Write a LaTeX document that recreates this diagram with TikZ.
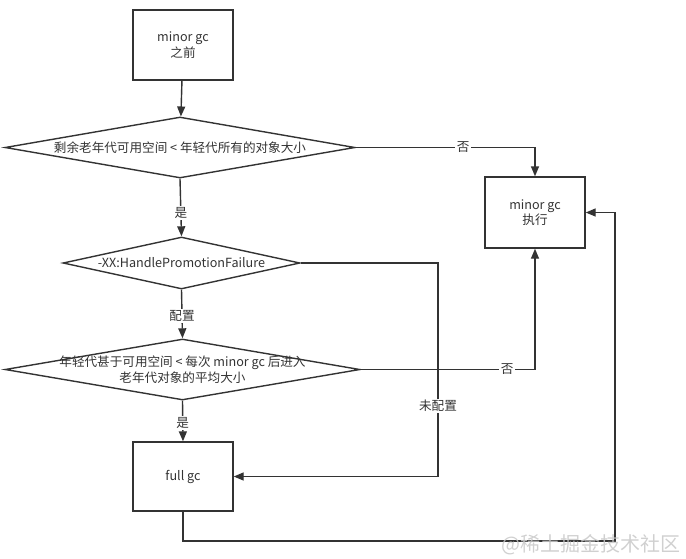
\documentclass[tikz,border=0pt]{standalone}
\usepackage{fontspec}
\setmainfont{Noto Sans CJK SC}
\usetikzlibrary{shapes.geometric, arrows.meta}
\definecolor{linegray}{HTML}{333333}
\definecolor{markgray}{HTML}{C8C8C8}

\begin{document}
\begin{tikzpicture}[x=1pt, y=-1pt,
    font=\fontsize{12.6}{15.5}\selectfont, text=linegray,
    box/.style={draw=linegray, line width=1.4pt, minimum width=100pt, minimum height=70pt, align=center},
    decision/.style={diamond, draw=linegray, line width=1.4pt, inner sep=0pt},
    arr/.style={draw=linegray, line width=1.4pt, -{Triangle[length=10pt, width=8pt]}},
    lbl/.style={fill=white, inner sep=1.5pt}]
    \useasboundingbox (0,0) rectangle (686,558);

    % 方框
    \node[box] (before) at (183,45) {minor gc\\之前};
    \node[box, minimum height=71pt] (minor) at (535,212.5) {minor gc\\执行};
    \node[box, minimum height=69pt] (full) at (183,476.5) {full gc};

    % 判断
    \node[decision, minimum width=350pt, minimum height=61pt,
        label={center:剩余老年代可用空间 < 年轻代所有的对象大小}] (check1) at (180,147.5) {};
    \node[decision, minimum width=237pt, minimum height=52pt,
        label={center:-XX:HandlePromotionFailure}] (check2) at (181.5,263) {};
    \node[decision, minimum width=355pt, minimum height=61pt,
        label={[align=center]center:年轻代甚于可用空间 < 每次 minor gc 后进入\\老年代对象的平均大小}] (check3) at (182.5,369.5) {};

    % 拐点
    \coordinate (turn) at (438,0);
    \coordinate (loop) at (615,541);

    % 连线
    \draw[arr] (before) -- (check1);
    \draw[arr] (check1.east) -| node[lbl, pos=0.3] {否} (minor.north);
    \draw[arr] (check1.south) -- node[lbl, pos=0.6] {是} (check2.north);
    \draw[arr] (check2.south) -- node[lbl, pos=0.54] {配置} (check3.north);
    \draw[arr] (check3.south) -- node[lbl, pos=0.55] {是} (full.north);
    \draw[arr] (check3.east) -| node[lbl, pos=0.42] {否} (minor.south);
    \draw[arr] (check2.east) -| node[lbl, pos=0.835] {未配置} (turn |- full.east) -- (full.east);
    \draw[arr] (full.south) |- (loop) |- (minor.east);

    % 水印
    \node[text=markgray, opacity=0.85, font=\fontsize{20}{20}\selectfont, anchor=east] (mark) at (684,545) {@稀土掘金技术社区};
\end{tikzpicture}
\end{document}
